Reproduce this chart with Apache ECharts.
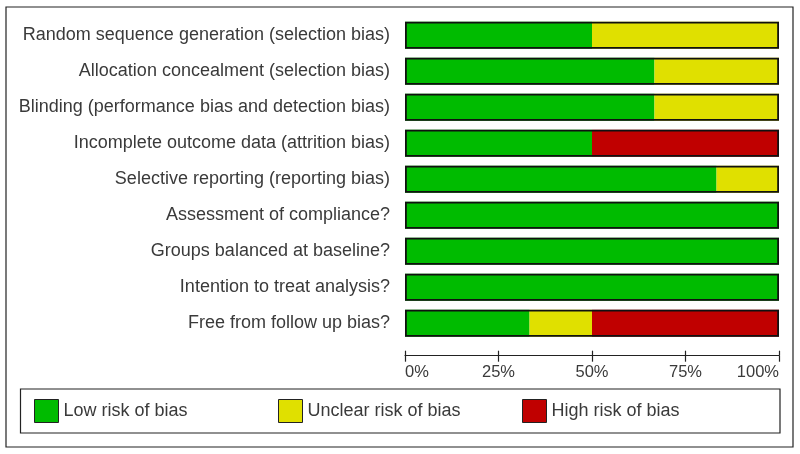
<!DOCTYPE html>
<html>
<head>
<meta charset="utf-8">
<script src="https://cdn.jsdelivr.net/npm/echarts@6/dist/echarts.min.js"></script>
<style>html,body{margin:0;padding:0;background:#fff}#c{width:800px;height:454px}</style>
</head>
<body>
<div id="c"></div>
<script>
const categories = [
  'Random sequence generation (selection bias)',
  'Allocation concealment (selection bias)',
  'Blinding (performance bias and detection bias)',
  'Incomplete outcome data (attrition bias)',
  'Selective reporting (reporting bias)',
  'Assessment of compliance?',
  'Groups balanced at baseline?',
  'Intention to treat analysis?',
  'Free from follow up bias?'
];
const lowRisk     = [50, 66.7, 66.7, 50, 83.3, 100, 100, 100, 33.3];
const unclearRisk = [50, 33.3, 33.3, 0, 16.7, 0, 0, 0, 16.7];
const highRisk    = [0, 0, 0, 50, 0, 0, 0, 0, 50];
const seriesNames = ['Low risk of bias', 'Unclear risk of bias', 'High risk of bias'];
const xTicks = [0, 25, 50, 75, 100];

const totals = categories.map((_, i) => lowRisk[i] + unclearRisk[i] + highRisk[i]);
const colors = ['#00BB00', '#E0E000', '#C00000'];
const font = 'Arial, "Liberation Sans", sans-serif';
const legendLefts = [34, 278, 522];

const chart = echarts.init(document.getElementById('c'), null, {renderer: 'canvas'});
chart.setOption({
  animation: false,
  backgroundColor: '#fff',
  graphic: [
    {type: 'rect', shape: {x: 6, y: 7, width: 787, height: 440}, style: {fill: 'none', stroke: '#222', lineWidth: 1.2}, z: -1},
    {type: 'rect', shape: {x: 20.5, y: 389, width: 759.5, height: 44}, style: {fill: 'none', stroke: '#222', lineWidth: 1.2}, z: -1}
  ],
  grid: {left: 405, right: 21, top: 17.3, height: 324, containLabel: false},
  legend: seriesNames.map((n, i) => ({
    data: [n],
    left: legendLefts[i],
    top: 399,
    padding: 0,
    itemWidth: 24,
    itemHeight: 23,
    itemStyle: {borderColor: '#222', borderWidth: 1},
    textStyle: {fontFamily: font, fontSize: 18, color: '#3a3a3a'},
    icon: 'rect',
    selectedMode: false
  })),
  xAxis: [
    {
      type: 'value', min: xTicks[0], max: xTicks[xTicks.length - 1], interval: 25,
      position: 'bottom', offset: 14.4,
      axisLine: {show: true, lineStyle: {color: '#222', width: 1.2}},
      axisTick: {show: true, inside: false, length: 6, lineStyle: {color: '#222', width: 1.2}},
      splitLine: {show: false},
      axisLabel: {formatter: '{value}%', fontFamily: font, fontSize: 16.5, color: '#3a3a3a', margin: 8,
        alignMinLabel: 'left', alignMaxLabel: 'right'}
    },
    {
      type: 'value', min: xTicks[0], max: xTicks[xTicks.length - 1], interval: 25,
      position: 'bottom', offset: 14.4,
      axisLine: {show: false},
      axisTick: {show: true, inside: true, length: 5, lineStyle: {color: '#222', width: 1.2}},
      splitLine: {show: false},
      axisLabel: {show: false}
    }
  ],
  yAxis: {
    type: 'category', data: categories, inverse: true,
    axisLine: {show: false}, axisTick: {show: false}, splitLine: {show: false},
    axisLabel: {fontFamily: font, fontSize: 18, color: '#3a3a3a', margin: 15, padding: [6, 0, 0, 0]}
  },
  series: [
    {name: seriesNames[0], type: 'bar', stack: 'rob', data: lowRisk, barWidth: 27, itemStyle: {color: colors[0]}},
    {name: seriesNames[1], type: 'bar', stack: 'rob', data: unclearRisk, barWidth: 27, itemStyle: {color: colors[1]}},
    {name: seriesNames[2], type: 'bar', stack: 'rob', data: highRisk, barWidth: 27, itemStyle: {color: colors[2]}},
    {name: 'outline', type: 'bar', data: totals, barWidth: 27, barGap: '-100%', z: 5, silent: true,
      itemStyle: {color: 'rgba(0,0,0,0)', borderColor: '#111', borderWidth: 1.8}}
  ]
});
</script>
</body>
</html>
